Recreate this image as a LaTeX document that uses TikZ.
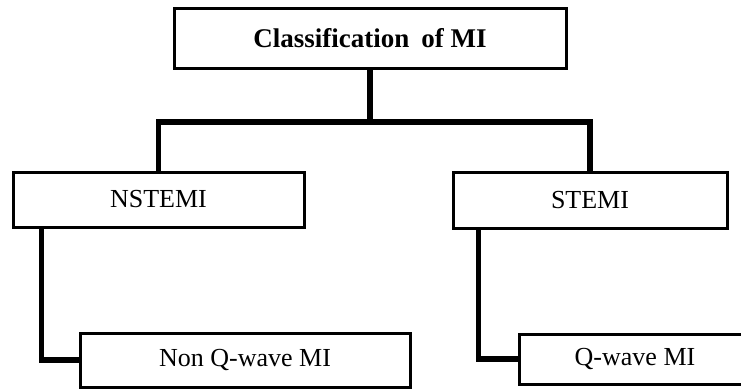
\documentclass[tikz,border=0pt]{standalone}
\usepackage{fontspec}
\setmainfont{Liberation Serif}
\begin{document}
\begin{tikzpicture}[x=1pt,y=-1pt,
  box/.style={draw=black,line width=3pt,fill=white,inner sep=0pt,
    font=\fontsize{26}{30}\selectfont},
  link/.style={draw=black,line width=5.5pt,line join=miter}]
  \useasboundingbox (0,0) rectangle (741,388);
  \clip (0,0) rectangle (741,388);
  % boxes
  \node[box,minimum width=392pt,minimum height=60pt,
        font=\fontsize{27}{30}\selectfont\bfseries] (top) at (370,38)
        {Classification\hspace{0.45em}of MI};
  \node[box,minimum width=291pt,minimum height=55pt] (nst) at (158.5,199.5) {NSTEMI};
  \node[box,minimum width=274pt,minimum height=56pt] (st) at (590,200) {STEMI};
  \node[box,minimum width=330pt,minimum height=54pt] (nq) at (245,360) {Non Q-wave MI};
  % the right-hand leaf runs past the edge of the page
  \node[box,minimum width=232pt,minimum height=50pt] (q) at (635,359) {Q-wave MI};
  % connectors
  \coordinate (bus) at (370,122);
  \draw[link] (top.south) -- (bus);
  \draw[link] (nst.north) -- (nst.north |- bus) -- (st.north |- bus) -- (st.north);
  \draw[link] ([xshift=30pt]nst.south west) |- (nq.west);
  \draw[link] ([xshift=27pt]st.south west) |- (q.west);
\end{tikzpicture}
\end{document}
